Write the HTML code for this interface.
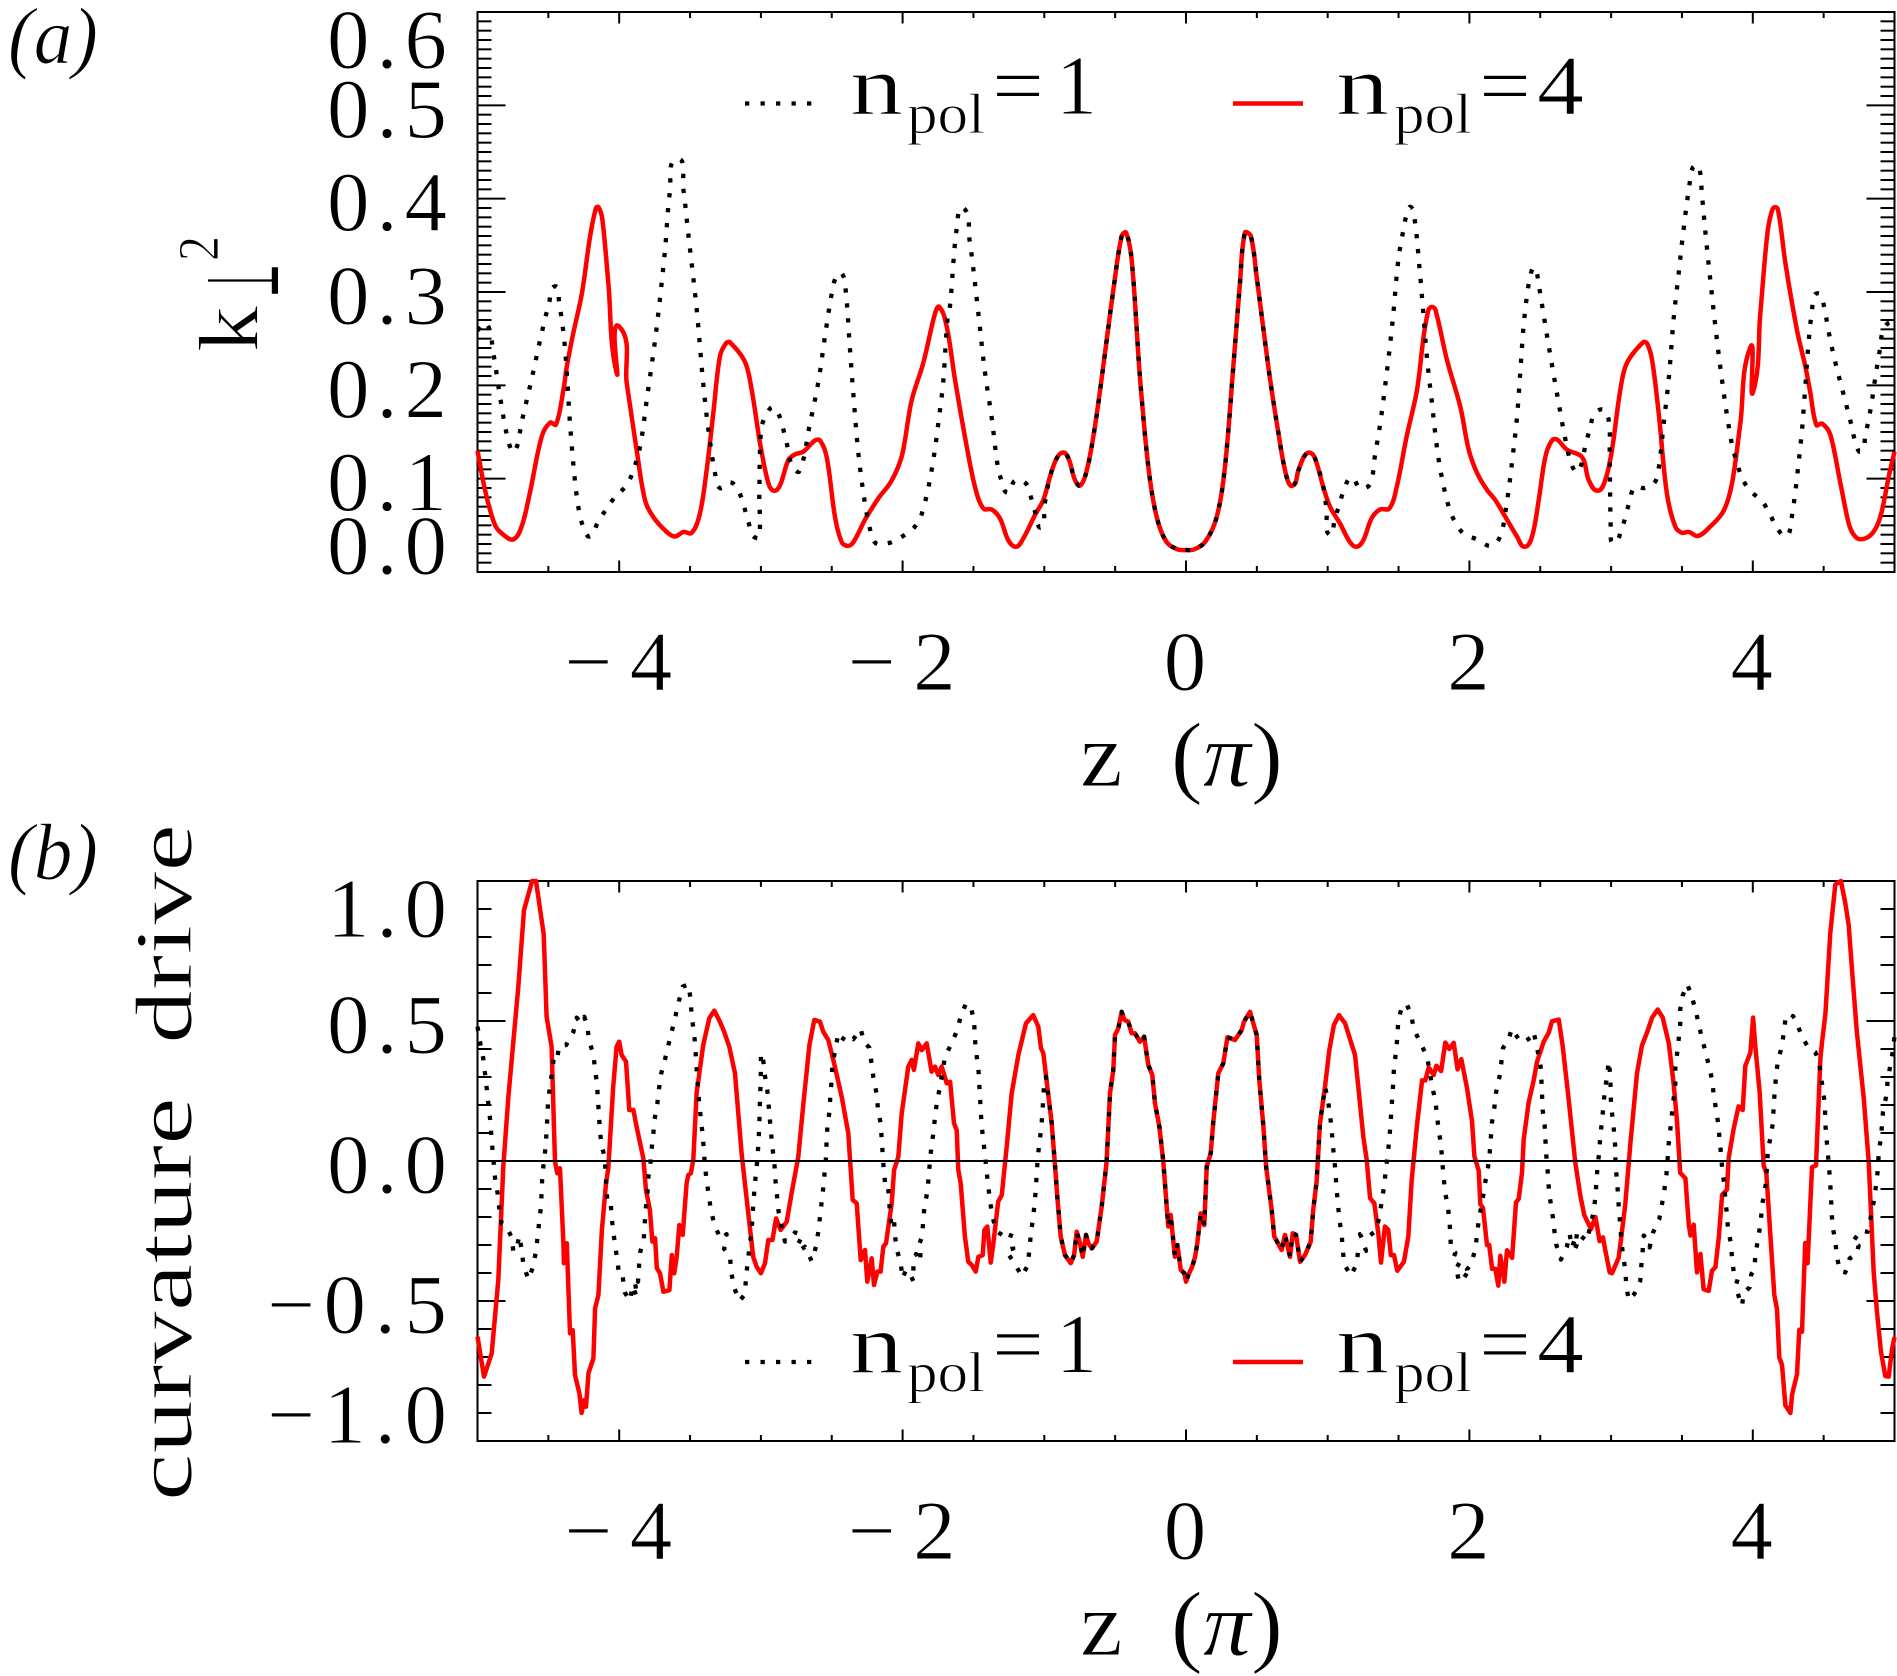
<!DOCTYPE html>
<html lang="en">
<head>
<meta charset="utf-8">
<title>k-perp squared and curvature drive versus z</title>
<style>
html,body{margin:0;padding:0;background:#fff;width:1897px;height:1676px;overflow:hidden}
svg{display:block}
text{font-family:"Liberation Serif","DejaVu Serif",serif;fill:#000;stroke:#fff;stroke-width:.9px}
</style>
</head>
<body>
<svg id="fig" xmlns="http://www.w3.org/2000/svg" width="1897" height="1676" viewBox="0 0 1897 1676">
  <text x="8" y="63" font-size="80" font-style="italic" textLength="90" lengthAdjust="spacingAndGlyphs">(a)</text>
  <text x="8" y="879" font-size="80" font-style="italic" textLength="90" lengthAdjust="spacingAndGlyphs">(b)</text>

  <g id="panelA"></g>
  <g id="panelB"></g>

  <g>
    <text transform="translate(257.5,352) rotate(-90)" font-size="85" textLength="46" lengthAdjust="spacingAndGlyphs">k</text>
    <text transform="translate(278,297) rotate(-90)" font-size="100" textLength="33" lengthAdjust="spacingAndGlyphs" style='font-family:"DejaVu Sans",sans-serif;stroke:none'>⊥</text>
    <text transform="translate(218,261) rotate(-90)" font-size="58" textLength="25" lengthAdjust="spacingAndGlyphs">2</text>
  </g>
  <text transform="translate(191,1501) rotate(-90)" font-size="81" textLength="677" lengthAdjust="spacingAndGlyphs">curvature&#160;&#160;drive</text>

  <text x="1080" y="786" font-size="92" textLength="203" lengthAdjust="spacingAndGlyphs">z&#160;&#160;(<tspan font-style="italic">π</tspan>)</text>
  <text x="1080" y="1655" font-size="92" textLength="203" lengthAdjust="spacingAndGlyphs">z&#160;&#160;(<tspan font-style="italic">π</tspan>)</text>

  <g>
    <g>
      <line x1="745" y1="103.5" x2="812" y2="103.5" stroke="#000" stroke-width="4.3" stroke-dasharray="4.3 11.2"/>
      <text x="850" y="114" font-size="85" textLength="53" lengthAdjust="spacingAndGlyphs">n</text>
      <text x="907" y="133" font-size="57" textLength="78" lengthAdjust="spacingAndGlyphs">pol</text>
      <text x="992" y="114" font-size="85" textLength="52" lengthAdjust="spacingAndGlyphs">=</text>
      <text x="1056" y="114" font-size="85" textLength="41" lengthAdjust="spacingAndGlyphs">1</text>
    </g>
    <g>
      <line x1="1233" y1="103.5" x2="1303" y2="103.5" stroke="#f00" stroke-width="4.5"/>
      <text x="1336" y="114" font-size="85" textLength="53" lengthAdjust="spacingAndGlyphs">n</text>
      <text x="1394" y="133" font-size="57" textLength="78" lengthAdjust="spacingAndGlyphs">pol</text>
      <text x="1479" y="114" font-size="85" textLength="52" lengthAdjust="spacingAndGlyphs">=</text>
      <text x="1537" y="114" font-size="85" textLength="47" lengthAdjust="spacingAndGlyphs">4</text>
    </g>
  </g>
  <g>
    <g>
      <line x1="745" y1="1362" x2="812" y2="1362" stroke="#000" stroke-width="4.3" stroke-dasharray="4.3 11.2"/>
      <text x="850" y="1372.5" font-size="85" textLength="53" lengthAdjust="spacingAndGlyphs">n</text>
      <text x="907" y="1391.5" font-size="57" textLength="78" lengthAdjust="spacingAndGlyphs">pol</text>
      <text x="992" y="1372.5" font-size="85" textLength="52" lengthAdjust="spacingAndGlyphs">=</text>
      <text x="1056" y="1372.5" font-size="85" textLength="41" lengthAdjust="spacingAndGlyphs">1</text>
    </g>
    <g>
      <line x1="1233" y1="1362" x2="1303" y2="1362" stroke="#f00" stroke-width="4.5"/>
      <text x="1336" y="1372.5" font-size="85" textLength="53" lengthAdjust="spacingAndGlyphs">n</text>
      <text x="1394" y="1391.5" font-size="57" textLength="78" lengthAdjust="spacingAndGlyphs">pol</text>
      <text x="1479" y="1372.5" font-size="85" textLength="52" lengthAdjust="spacingAndGlyphs">=</text>
      <text x="1537" y="1372.5" font-size="85" textLength="47" lengthAdjust="spacingAndGlyphs">4</text>
    </g>
  </g>
</svg>

<script>
/* ---------- chart data: [z (units of pi), value] ---------- */
const xTickMajor = [-4,-2,0,2,4];
const xTickLabels = ["−4","−2","0","2","4"];
const yTickValuesA = [0.0,0.1,0.2,0.3,0.4,0.5,0.6];
const yTickLabelsA = ["0.0","0.1","0.2","0.3","0.4","0.5","0.6"];
const yTickValuesB = [-1.0,-0.5,0.0,0.5,1.0];
const yTickLabelsB = ["−1.0","−0.5","0.0","0.5","1.0"];

const k2Npol4 = [[-5,.130],[-4.947,.088],[-4.876,.050],[-4.818,.040],[-4.747,.035],[-4.688,.049],[-4.63,.085],[-4.547,.145],[-4.488,.160],[-4.446,.158],[-4.394,.195],[-4.37,.22],[-4.324,.256],[-4.264,.298],[-4.206,.359],[-4.164,.390],[-4.147,.391],[-4.12,.379],[-4.077,.31],[-4.018,.2135],[-4.0,.263],[-3.947,.2025],[-3.877,.131],[-3.818,.077],[-3.76,.059],[-3.665,.043],[-3.606,.038],[-3.547,.043],[-3.488,.042],[-3.43,.063],[-3.383,.109],[-3.336,.17],[-3.289,.231],[-3.246,.245],[-3.218,.246],[-3.112,.225],[-3.065,.195],[-3.006,.138],[-2.947,.095],[-2.908,.087],[-2.865,.093],[-2.806,.12],[-2.759,.126],[-2.7,.129],[-2.618,.141],[-2.583,.141],[-2.536,.1235],[-2.477,.059],[-2.43,.032],[-2.387,.028],[-2.347,.032],[-2.265,.056],[-2.171,.079],[-2.089,.095],[-2.03,.113],[-1.995,.131],[-1.936,.184],[-1.854,.224],[-1.771,.277],[-1.741,.284],[-1.689,.263],[-1.63,.206],[-1.56,.145],[-1.489,.091],[-1.43,.068],[-1.371,.067],[-1.313,.0575],[-1.254,.034],[-1.2,.027],[-1.148,.036],[-1.066,.061],[-1.007,.077],[-.96,.102],[-.912,.122],[-.866,.128],[-.83,.122],[-.76,.093],[-.713,.102],[-.654,.145],[-.584,.22],[-.513,.302],[-.454,.36],[-.423,.3635],[-.383,.334],[-.325,.209],[-.266,.113],[-.207,.059],[-.136,.032],[-.054,.024],[0,.0236],[.054,.024],[.134,.032],[.217,.059],[.275,.113],[.334,.22],[.381,.31],[.416,.3635],[.457,.36],[.499,.316],[.581,.22],[.652,.149],[.71,.102],[.753,.0925],[.793,.109],[.833,.1235],[.87,.128],[.91,.122],[.969,.091],[1.016,.07],[1.087,.052],[1.157,.032],[1.205,.027],[1.251,.034],[1.31,.0575],[1.369,.067],[1.435,.068],[1.487,.091],[1.557,.145],[1.63,.195],[1.677,.252],[1.712,.281],[1.736,.284],[1.76,.281],[1.842,.227],[1.936,.177],[1.995,.131],[2.054,.106],[2.124,.088],[2.183,.077],[2.265,.056],[2.336,.038],[2.39,.027],[2.442,.038],[2.489,.077],[2.536,.1235],[2.583,.141],[2.618,.142],[2.689,.131],[2.795,.123],[2.842,.0986],[2.905,.087],[2.959,.0986],[3.006,.131],[3.065,.195],[3.112,.224],[3.225,.246],[3.253,.245],[3.289,.227],[3.336,.17],[3.394,.084],[3.453,.0485],[3.5,.042],[3.548,.043],[3.611,.0386],[3.689,.047],[3.795,.066],[3.853,.095],[3.912,.159],[3.983,.241],[4.002,.193],[4.053,.277],[4.1,.359],[4.129,.384],[4.159,.391],[4.183,.384],[4.23,.331],[4.312,.259],[4.371,.22],[4.407,.191],[4.449,.1575],[4.489,.159],[4.547,.147],[4.618,.095],[4.677,.052],[4.712,.04],[4.759,.035],[4.841,.041],[4.9,.059],[4.959,.102],[5,.129]];

const k2Npol1 = [[-5,.259],[-4.935,.266],[-4.888,.234],[-4.841,.188],[-4.782,.14],[-4.74,.129],[-4.688,.161],[-4.617,.2075],[-4.547,.256],[-4.495,.288],[-4.453,.306],[-4.425,.29],[-4.383,.241],[-4.347,.159],[-4.312,.097],[-4.281,.063],[-4.253,.0485],[-4.206,.038],[-4.152,.053],[-4.037,.079],[-3.959,.091],[-3.912,.104],[-3.853,.134],[-3.806,.184],[-3.735,.263],[-3.677,.345],[-3.641,.409],[-3.59,.4425],[-3.548,.411],[-3.513,.363],[-3.454,.2825],[-3.407,.202],[-3.372,.154],[-3.324,.106],[-3.289,.09],[-3.213,.096],[-3.152,.085],[-3.089,.054],[-3.054,.0386],[-3.013,.037],[-3.011,.084],[-3,.15],[-2.971,.166],[-2.908,.176],[-2.83,.146],[-2.783,.115],[-2.729,.108],[-2.658,.156],[-2.594,.204],[-2.548,.252],[-2.5,.2986],[-2.47,.316],[-2.43,.32],[-2.403,.304],[-2.372,.24],[-2.348,.191],[-2.312,.127],[-2.27,.078],[-2.23,.046],[-2.19,.031],[-2.098,.031],[-2.002,.038],[-1.917,.048],[-1.865,.062],[-1.795,.109],[-1.736,.1736],[-1.712,.206],[-1.684,.27],[-1.665,.286],[-1.618,.368],[-1.571,.39],[-1.529,.3575],[-1.489,.309],[-1.454,.261],[-1.418,.213],[-1.371,.165],[-1.332,.1165],[-1.306,.1],[-1.258,.085],[-1.207,.098],[-1.131,.095],[-1.094,.08],[-1.066,.065],[-1.035,.048],[-1.002,.052],[-1.002,.067],[-.96,.102],[-.912,.122],[-.866,.128],[-.83,.122],[-.76,.093],[-.713,.102],[-.654,.145],[-.584,.22],[-.513,.302],[-.454,.36],[-.423,.3635],[-.383,.334],[-.325,.209],[-.266,.113],[-.207,.059],[-.136,.032],[-.054,.024],[0,.0236],[.054,.024],[.134,.032],[.217,.059],[.275,.113],[.334,.22],[.381,.31],[.416,.3635],[.457,.36],[.499,.316],[.581,.22],[.652,.149],[.71,.102],[.753,.0925],[.793,.109],[.833,.1235],[.87,.128],[.91,.122],[.969,.091],[.993,.065],[1.011,.04],[1.051,.0575],[1.082,.072],[1.115,.088],[1.169,.101],[1.228,.0897],[1.298,.094],[1.334,.125],[1.369,.1575],[1.411,.206],[1.459,.27],[1.498,.334],[1.534,.3665],[1.557,.3825],[1.588,.391],[1.616,.375],[1.647,.327],[1.666,.2935],[1.701,.229],[1.736,.181],[1.771,.133],[1.807,.1],[1.854,.07],[1.894,.055],[1.96,.041],[2.054,.035],[2.153,.028],[2.218,.0386],[2.26,.07],[2.301,.118],[2.336,.166],[2.36,.216],[2.383,.265],[2.407,.297],[2.431,.318],[2.458,.326],[2.489,.3075],[2.524,.275],[2.559,.243],[2.595,.211],[2.63,.181],[2.67,.148],[2.717,.117],[2.764,.1075],[2.823,.1385],[2.853,.155],[2.884,.17],[2.952,.1736],[2.987,.1575],[2.99,.125],[2.994,.077],[2.999,.045],[3.018,.031],[3.072,.045],[3.131,.076],[3.167,.091],[3.237,.09],[3.308,.096],[3.336,.111],[3.371,.159],[3.407,.2075],[3.442,.272],[3.477,.32],[3.512,.368],[3.555,.417],[3.578,.4336],[3.618,.435],[3.642,.402],[3.672,.354],[3.705,.306],[3.74,.2575],[3.78,.209],[3.825,.161],[3.865,.129],[3.931,.0986],[3.99,.086],[4.069,.075],[4.124,.061],[4.171,.047],[4.237,.0386],[4.27,.055],[4.3,.086],[4.324,.118],[4.347,.152],[4.371,.2],[4.395,.2486],[4.418,.281],[4.437,.297],[4.477,.2975],[4.507,.281],[4.547,.2486],[4.594,.2175],[4.648,.186],[4.7,.155],[4.724,.139],[4.764,.129],[4.794,.146],[4.834,.177],[4.865,.209],[4.9,.241],[4.917,.2575],[4.971,.2675],[5,.259]];

const curvNpol4 = [[-5,-.627],[-4.954,-.77],[-4.9,-.687],[-4.853,-.425],[-4.818,-.02],[-4.782,.23],[-4.712,.622],[-4.672,.896],[-4.615,1.0],[-4.587,1.0],[-4.533,.81],[-4.512,.515],[-4.477,.408],[-4.453,-.0025],[-4.437,-.044],[-4.418,-.026],[-4.394,-.294],[-4.39,-.365],[-4.37,-.294],[-4.347,-.615],[-4.328,-.604],[-4.312,-.764],[-4.281,-.83],[-4.265,-.9],[-4.248,-.854],[-4.234,-.8775],[-4.217,-.757],[-4.182,-.705],[-4.17,-.526],[-4.147,-.4786],[-4.122,-.246],[-4.093,-.08],[-4.077,-.026],[-4.042,.265],[-4.018,.408],[-4,.426],[-3.983,.379],[-3.952,.355],[-3.929,.182],[-3.9,.182],[-3.877,.1225],[-3.83,.01],[-3.811,-.104],[-3.783,-.175],[-3.766,-.288],[-3.747,-.276],[-3.735,-.383],[-3.712,-.401],[-3.688,-.467],[-3.646,-.461],[-3.629,-.336],[-3.612,-.401],[-3.594,-.342],[-3.576,-.229],[-3.552,-.264],[-3.524,-.08],[-3.512,-.05],[-3.495,-.044],[-3.477,.004],[-3.454,.242],[-3.407,.414],[-3.364,.51],[-3.329,.537],[-3.289,.4975],[-3.26,.462],[-3.223,.408],[-3.183,.313],[-3.136,.0275],[-3.093,-.169],[-3.054,-.342],[-3.03,-.3775],[-3,-.401],[-2.971,-.365],[-2.948,-.282],[-2.919,-.282],[-2.893,-.205],[-2.86,-.246],[-2.818,-.217],[-2.783,-.115],[-2.736,.015],[-2.7,.206],[-2.658,.414],[-2.623,.504],[-2.583,.4975],[-2.56,.462],[-2.524,.432],[-2.489,.361],[-2.43,.23],[-2.383,.099],[-2.352,-.139],[-2.324,-.151],[-2.296,-.354],[-2.265,-.318],[-2.249,-.431],[-2.218,-.3475],[-2.202,-.443],[-2.178,-.395],[-2.155,-.395],[-2.136,-.306],[-2.117,-.294],[-2.077,-.151],[-2.06,-.032],[-2.03,.015],[-2.006,.17],[-1.96,.337],[-1.936,.361],[-1.92,.325],[-1.889,.42],[-1.865,.396],[-1.83,.42],[-1.795,.319],[-1.771,.337],[-1.748,.307],[-1.724,.337],[-1.689,.2775],[-1.665,.283],[-1.637,.135],[-1.618,.11],[-1.607,-.032],[-1.59,-.08],[-1.56,-.27],[-1.536,-.36],[-1.512,-.371],[-1.484,-.395],[-1.465,-.342],[-1.435,-.336],[-1.423,-.246],[-1.402,-.234],[-1.378,-.363],[-1.36,-.296],[-1.325,-.145],[-1.3,-.121],[-1.265,.051],[-1.23,.242],[-1.183,.379],[-1.129,.492],[-1.078,.521],[-1.042,.48],[-1.023,.4025],[-1.007,.385],[-.948,.135],[-.924,-.02],[-.908,-.1275],[-.884,-.27],[-.854,-.336],[-.814,-.365],[-.79,-.336],[-.771,-.2525],[-.748,-.294],[-.729,-.342],[-.706,-.264],[-.689,-.294],[-.665,-.312],[-.63,-.288],[-.595,-.163],[-.56,-.0025],[-.536,.242],[-.513,.325],[-.501,.45],[-.478,.474],[-.454,.533],[-.435,.504],[-.407,.4975],[-.383,.456],[-.36,.456],[-.325,.426],[-.296,.444],[-.266,.343],[-.238,.307],[-.219,.206],[-.188,.1225],[-.16,-.0025],[-.136,-.163],[-.125,-.234],[-.108,-.193],[-.078,-.342],[-.061,-.3],[-.037,-.389],[-.012,-.401],[0,-.431],[.016,-.407],[.044,-.3775],[.064,-.342],[.08,-.294],[.104,-.187],[.129,-.229],[.146,-.02],[.174,.0275],[.193,.14],[.228,.313],[.263,.349],[.292,.442],[.346,.432],[.393,.468],[.409,.4975],[.452,.533],[.499,.45],[.517,.289],[.546,.1225],[.565,-.02],[.605,-.175],[.623,-.27],[.675,-.318],[.699,-.264],[.734,-.342],[.753,-.258],[.776,-.264],[.805,-.36],[.84,-.336],[.88,-.288],[.898,-.175],[.922,-.074],[.946,.135],[.981,.265],[1.011,.396],[1.044,.486],[1.08,.521],[1.122,.492],[1.193,.379],[1.216,.265],[1.251,.087],[1.275,.004],[1.299,-.133],[1.329,-.151],[1.357,-.258],[1.376,-.363],[1.404,-.234],[1.428,-.246],[1.445,-.336],[1.468,-.336],[1.491,-.392],[1.538,-.36],[1.569,-.27],[1.593,-.068],[1.63,.129],[1.666,.288],[1.689,.288],[1.713,.334],[1.748,.307],[1.767,.34],[1.8,.321],[1.83,.423],[1.858,.4],[1.889,.422],[1.917,.327],[1.943,.364],[1.983,.261],[2.018,.142],[2.035,.017],[2.066,-.036],[2.077,-.154],[2.096,-.168],[2.124,-.3],[2.14,-.3],[2.16,-.385],[2.183,-.385],[2.204,-.445],[2.218,-.339],[2.246,-.431],[2.265,-.319],[2.301,-.346],[2.329,-.148],[2.348,-.135],[2.371,-.042],[2.383,.077],[2.418,.208],[2.454,.288],[2.477,.354],[2.524,.426],[2.56,.459],[2.583,.499],[2.63,.505],[2.658,.413],[2.7,.222],[2.747,-.003],[2.782,-.121],[2.811,-.194],[2.858,-.243],[2.889,-.2],[2.919,-.286],[2.943,-.273],[2.959,-.319],[2.99,-.398],[3.006,-.401],[3.053,-.346],[3.07,-.28],[3.1,-.154],[3.136,.063],[3.183,.314],[3.218,.413],[3.253,.459],[3.289,.512],[3.329,.541],[3.364,.512],[3.407,.42],[3.442,.274],[3.465,.142],[3.488,-.042],[3.524,-.062],[3.548,-.227],[3.56,-.266],[3.583,-.227],[3.606,-.398],[3.63,-.332],[3.653,-.458],[3.689,-.464],[3.712,-.392],[3.736,-.379],[3.76,-.273],[3.783,-.121],[3.818,-.102],[3.83,.011],[3.865,.116],[3.9,.195],[3.929,.182],[3.947,.34],[3.983,.387],[4.002,.512],[4.018,.406],[4.048,.248],[4.077,-.016],[4.095,-.042],[4.124,-.266],[4.152,-.478],[4.171,-.53],[4.187,-.702],[4.206,-.728],[4.23,-.873],[4.265,-.9],[4.277,-.834],[4.312,-.761],[4.328,-.603],[4.347,-.61],[4.37,-.293],[4.387,-.365],[4.418,-.022],[4.446,-.016],[4.477,.367],[4.489,.426],[4.512,.525],[4.547,.815],[4.582,.987],[4.622,1.0],[4.653,.921],[4.677,.842],[4.7,.683],[4.735,.459],[4.783,.222],[4.818,-.003],[4.853,-.398],[4.877,-.544],[4.905,-.682],[4.935,-.768],[4.959,-.77],[4.982,-.675],[5,-.629]];

const curvNpol1 = [[-5,.48],[-4.98,.42],[-4.96,.367],[-4.947,.313],[-4.935,.26],[-4.924,.206],[-4.912,.152],[-4.895,.045],[-4.876,-.062],[-4.858,-.115],[-4.846,-.169],[-4.83,-.223],[-4.79,-.24],[-4.759,-.273],[-4.747,-.324],[-4.724,-.312],[-4.705,-.267],[-4.688,-.318],[-4.676,-.371],[-4.641,-.423],[-4.606,-.375],[-4.587,-.32],[-4.575,-.268],[-4.564,-.214],[-4.552,-.161],[-4.543,-.054],[-4.531,0],[-4.519,.055],[-4.512,.108],[-4.507,.162],[-4.502,.215],[-4.488,.269],[-4.472,.323],[-4.46,.376],[-4.436,.369],[-4.425,.411],[-4.375,.414],[-4.324,.46],[-4.3,.512],[-4.272,.492],[-4.246,.515],[-4.225,.483],[-4.213,.43],[-4.183,.382],[-4.171,.329],[-4.157,.275],[-4.15,.221],[-4.143,.168],[-4.136,.113],[-4.126,.06],[-4.105,.019],[-4.096,-.036],[-4.091,-.089],[-4.084,-.143],[-4.061,-.143],[-4.054,-.196],[-4.042,-.25],[-4.028,-.304],[-4.012,-.357],[-4.001,-.411],[-3.975,-.413],[-3.961,-.469],[-3.923,-.499],[-3.907,-.446],[-3.876,-.485],[-3.891,-.417],[-3.867,-.431],[-3.86,-.377],[-3.851,-.324],[-3.827,-.282],[-3.82,-.226],[-3.813,-.173],[-3.801,-.119],[-3.797,-.065],[-3.78,-.012],[-3.771,.042],[-3.759,.096],[-3.75,.15],[-3.731,.204],[-3.719,.257],[-3.705,.31],[-3.677,.363],[-3.653,.414],[-3.627,.468],[-3.601,.521],[-3.578,.573],[-3.552,.623],[-3.51,.631],[-3.496,.575],[-3.489,.521],[-3.475,.468],[-3.463,.414],[-3.458,.361],[-3.451,.307],[-3.444,.254],[-3.434,.2],[-3.423,.146],[-3.411,.093],[-3.402,.038],[-3.395,-.015],[-3.383,-.07],[-3.367,-.124],[-3.353,-.177],[-3.325,-.231],[-3.284,-.279],[-3.242,-.261],[-3.26,-.314],[-3.218,-.342],[-3.209,-.398],[-3.19,-.451],[-3.152,-.5],[-3.117,-.479],[-3.105,-.425],[-3.096,-.371],[-3.07,-.267],[-3.061,-.211],[-3.054,-.157],[-3.046,-.104],[-3.037,-.05],[-3.025,.004],[-3.018,.057],[-3.013,.111],[-3.009,.164],[-3.006,.22],[-3.002,.275],[-3,.331],[-3,.385],[-2.983,.357],[-2.971,.304],[-2.954,.25],[-2.945,.196],[-2.936,.142],[-2.926,.088],[-2.915,.035],[-2.903,-.02],[-2.896,-.074],[-2.886,-.127],[-2.875,-.181],[-2.853,-.235],[-2.83,-.288],[-2.783,-.27],[-2.759,-.255],[-2.705,-.264],[-2.747,-.306],[-2.724,-.318],[-2.689,-.306],[-2.642,-.357],[-2.611,-.306],[-2.595,-.252],[-2.583,-.199],[-2.571,-.145],[-2.559,-.092],[-2.55,-.038],[-2.54,.015],[-2.536,.07],[-2.531,.125],[-2.515,.179],[-2.51,.232],[-2.501,.287],[-2.496,.34],[-2.477,.393],[-2.458,.444],[-2.437,.423],[-2.402,.45],[-2.348,.435],[-2.296,.471],[-2.272,.425],[-2.235,.405],[-2.22,.352],[-2.206,.298],[-2.185,.244],[-2.174,.19],[-2.157,.138],[-2.148,.085],[-2.141,.03],[-2.134,-.024],[-2.124,-.076],[-2.103,-.074],[-2.098,-.127],[-2.089,-.181],[-2.077,-.237],[-2.06,-.217],[-2.054,-.262],[-2.042,-.314],[-2.014,-.363],[-2,-.419],[-1.976,-.389],[-1.948,-.405],[-1.924,-.429],[-1.924,-.375],[-1.905,-.332],[-1.877,-.36],[-1.872,-.321],[-1.886,-.302],[-1.863,-.27],[-1.846,-.163],[-1.825,-.11],[-1.816,-.056],[-1.807,-.002],[-1.797,.051],[-1.781,.105],[-1.771,.158],[-1.757,.212],[-1.736,.265],[-1.701,.373],[-1.654,.42],[-1.614,.468],[-1.588,.521],[-1.553,.561],[-1.52,.554],[-1.496,.501],[-1.484,.394],[-1.466,.34],[-1.461,.287],[-1.454,.233],[-1.449,.179],[-1.442,.125],[-1.43,.071],[-1.418,.018],[-1.407,-.036],[-1.395,-.089],[-1.383,-.143],[-1.366,-.196],[-1.341,-.249],[-1.29,-.267],[-1.23,-.258],[-1.249,-.282],[-1.219,-.312],[-1.27,-.32],[-1.207,-.368],[-1.16,-.411],[-1.117,-.374],[-1.106,-.32],[-1.096,-.267],[-1.082,-.211],[-1.07,-.16],[-1.061,-.106],[-1.054,-.052],[-1.047,.004],[-1.037,.056],[-1.023,.111],[-1.014,.164],[-1.002,.271],[-.988,.301],[-.948,.135],[-.924,-.02],[-.908,-.1275],[-.884,-.27],[-.854,-.336],[-.814,-.365],[-.79,-.336],[-.771,-.2525],[-.748,-.294],[-.729,-.342],[-.706,-.264],[-.689,-.294],[-.665,-.312],[-.63,-.288],[-.595,-.163],[-.56,-.0025],[-.536,.242],[-.513,.325],[-.501,.45],[-.478,.474],[-.454,.533],[-.435,.504],[-.407,.4975],[-.383,.456],[-.36,.456],[-.325,.426],[-.296,.444],[-.266,.343],[-.238,.307],[-.219,.206],[-.188,.1225],[-.16,-.0025],[-.136,-.163],[-.125,-.234],[-.108,-.193],[-.078,-.342],[-.061,-.3],[-.037,-.389],[-.012,-.401],[0,-.431],[.016,-.407],[.044,-.3775],[.064,-.342],[.08,-.294],[.104,-.187],[.129,-.229],[.146,-.02],[.174,.0275],[.193,.14],[.228,.313],[.263,.349],[.292,.442],[.346,.432],[.393,.468],[.409,.4975],[.452,.533],[.499,.45],[.517,.289],[.546,.1225],[.565,-.02],[.605,-.175],[.623,-.27],[.675,-.318],[.699,-.264],[.734,-.342],[.753,-.258],[.776,-.264],[.805,-.36],[.84,-.336],[.88,-.288],[.898,-.175],[.922,-.074],[.946,.135],[.981,.265],[1,.221],[1.016,.167],[1.028,.113],[1.035,.06],[1.047,.006],[1.056,-.048],[1.063,-.101],[1.073,-.155],[1.082,-.208],[1.099,-.262],[1.106,-.315],[1.117,-.369],[1.162,-.41],[1.204,-.369],[1.216,-.315],[1.27,-.321],[1.247,-.282],[1.228,-.261],[1.287,-.27],[1.341,-.249],[1.364,-.199],[1.381,-.145],[1.397,-.092],[1.409,-.038],[1.421,.015],[1.433,.069],[1.442,.123],[1.449,.176],[1.456,.23],[1.463,.283],[1.468,.339],[1.484,.393],[1.491,.446],[1.498,.5],[1.522,.549],[1.557,.561],[1.588,.524],[1.609,.47],[1.654,.422],[1.701,.373],[1.72,.321],[1.736,.268],[1.76,.215],[1.771,.162],[1.783,.109],[1.8,.057],[1.807,.001],[1.818,-.051],[1.826,-.106],[1.847,-.158],[1.859,-.211],[1.866,-.266],[1.87,-.319],[1.901,-.328],[1.877,-.359],[1.936,-.375],[1.908,-.385],[1.924,-.425],[1.952,-.401],[2.002,-.418],[1.983,-.388],[2.014,-.365],[2.042,-.313],[2.054,-.26],[2.066,-.211],[2.096,-.128],[2.112,-.075],[2.131,-.022],[2.143,.03],[2.152,.086],[2.159,.136],[2.176,.189],[2.188,.244],[2.211,.297],[2.225,.351],[2.237,.404],[2.27,.426],[2.3,.472],[2.348,.435],[2.401,.446],[2.434,.423],[2.458,.45],[2.482,.393],[2.501,.344],[2.508,.29],[2.517,.182],[2.531,.129],[2.543,.02],[2.552,-.033],[2.559,-.088],[2.571,-.141],[2.587,-.194],[2.599,-.247],[2.613,-.299],[2.646,-.352],[2.688,-.306],[2.707,-.26],[2.724,-.309],[2.759,-.256],[2.747,-.313],[2.782,-.266],[2.83,-.286],[2.853,-.233],[2.877,-.181],[2.889,-.128],[2.896,-.075],[2.905,-.018],[2.917,.034],[2.924,.09],[2.936,.142],[2.955,.248],[2.971,.301],[2.983,.356],[2.994,.31],[2.997,.255],[2.999,.202],[3.013,.145],[3.023,.092],[3.03,.04],[3.03,-.016],[3.042,-.069],[3.049,-.121],[3.056,-.177],[3.065,-.23],[3.072,-.282],[3.084,-.336],[3.1,-.389],[3.107,-.445],[3.124,-.497],[3.164,-.475],[3.206,-.427],[3.213,-.375],[3.223,-.319],[3.23,-.266],[3.253,-.28],[3.272,-.309],[3.296,-.256],[3.34,-.207],[3.359,-.154],[3.376,-.102],[3.39,-.049],[3.399,.004],[3.406,.059],[3.418,.112],[3.43,.169],[3.441,.222],[3.453,.274],[3.453,.33],[3.465,.38],[3.477,.435],[3.488,.485],[3.488,.542],[3.505,.591],[3.536,.631],[3.559,.604],[3.59,.551],[3.614,.499],[3.637,.446],[3.665,.393],[3.689,.343],[3.713,.29],[3.724,.237],[3.741,.182],[3.757,.129],[3.766,.077],[3.776,.021],[3.785,-.032],[3.799,-.084],[3.806,-.137],[3.818,-.191],[3.825,-.244],[3.844,-.29],[3.853,-.343],[3.865,-.396],[3.9,-.412],[3.877,-.449],[3.924,-.517],[3.936,-.471],[3.978,-.451],[3.989,-.405],[4.011,-.388],[4.018,-.332],[4.037,-.28],[4.053,-.227],[4.07,-.145],[4.081,-.121],[4.095,-.066],[4.1,-.013],[4.107,.04],[4.128,.092],[4.142,.136],[4.147,.189],[4.154,.244],[4.163,.297],[4.175,.351],[4.2,.4],[4.218,.453],[4.23,.505],[4.26,.496],[4.284,.518],[4.312,.492],[4.347,.443],[4.394,.404],[4.441,.389],[4.465,.358],[4.481,.305],[4.495,.252],[4.51,.198],[4.51,.142],[4.519,.09],[4.528,.037],[4.537,-.016],[4.545,-.071],[4.552,-.124],[4.556,-.181],[4.563,-.234],[4.582,-.286],[4.594,-.342],[4.613,-.392],[4.653,-.398],[4.684,-.348],[4.735,-.332],[4.747,-.302],[4.7,-.293],[4.723,-.276],[4.763,-.249],[4.81,-.253],[4.834,-.198],[4.853,-.145],[4.869,-.091],[4.881,-.038],[4.888,.017],[4.9,.07],[4.911,.123],[4.919,.175],[4.94,.228],[4.951,.284],[4.97,.34],[4.989,.393],[5,.446]];

/* ---------- axis functions ---------- */
const SVGNS = "http://www.w3.org/2000/svg";
const PLOT_L = 477.5, PLOT_R = 1894.5;
const xScale = z => PLOT_L + (z + 5) / 10 * (PLOT_R - PLOT_L);
const A_TOP = 12, A_BOT = 572, B_TOP = 881, B_BOT = 1441;
const yScaleA = v => A_BOT - v / 0.6 * (A_BOT - A_TOP);
const yScaleB = v => B_BOT - (v + 1) / 2 * (B_BOT - B_TOP);

function mk(tag, attrs, parent){
  const e = document.createElementNS(SVGNS, tag);
  for (const k in attrs) e.setAttribute(k, attrs[k]);
  parent.appendChild(e);
  return e;
}
function textLen(s){
  let w = 0;
  for (const c of s) w += c === "." ? 24 : c === "−" ? 60 : 48;
  return w;
}
function tickLine(parent, x1, y1, x2, y2, name){
  const t = mk("line", {x1, y1, x2, y2, stroke:"#000", "stroke-width":2}, parent);
  
  
}
function linePath(p){
  return "M" + p.map(q => q[0].toFixed(1) + " " + q[1].toFixed(1)).join("L");
}
/* tangent-limited cubic through the read points; keeps peaks from overshooting */
function smoothPath(p){
  let d = "M" + p[0][0].toFixed(1) + " " + p[0][1].toFixed(1);
  const tan = i => {
    const a = p[Math.max(0, i - 1)], b = p[Math.min(p.length - 1, i + 1)];
    const dx = b[0] - a[0], dy = b[1] - a[1], m = Math.hypot(dx, dy) || 1;
    return [dx / m, dy / m];
  };
  for (let i = 0; i < p.length - 1; i++){
    const s = Math.hypot(p[i+1][0] - p[i][0], p[i+1][1] - p[i][1]) / 3;
    const t0 = tan(i), t1 = tan(i + 1);
    const c1 = [p[i][0] + t0[0] * s, p[i][1] + t0[1] * s];
    const c2 = [p[i+1][0] - t1[0] * s, p[i+1][1] - t1[1] * s];
    d += "C" + c1[0].toFixed(1) + " " + c1[1].toFixed(1) + " " + c2[0].toFixed(1) + " " + c2[1].toFixed(1) + " " + p[i+1][0].toFixed(1) + " " + p[i+1][1].toFixed(1);
  }
  return d;
}
function drawSeries(parent, data, yS, dotted, smooth, name){
  const pts = data.map(d => [xScale(d[0]), yS(d[1])]);
  const dStr = smooth ? smoothPath(pts) : linePath(pts);
  const attrs = dotted
    ? {d:dStr, fill:"none", stroke:"#000", "stroke-width":4.3, "stroke-dasharray":"4.3 10.7", "stroke-linejoin":"round"}
    : {d:dStr, fill:"none", stroke:"#f00", "stroke-width":4.5, "stroke-linejoin":"round"};
  const p = mk("path", attrs, parent);
  
  
}
function drawPanel(parent, top, bot, yS, minorStep, vMin, vMax, yVals, yLabs, solid, dots, smooth, suffix){
  /* frame */
  const f = mk("rect", {x:PLOT_L, y:top, width:PLOT_R-PLOT_L, height:bot-top, fill:"none", stroke:"#000", "stroke-width":2}, parent);
  
  

  /* x ticks: minor every 0.5, major at labelled values */
  for (let i = -10; i <= 10; i++){
    const z = i * 0.5;
    const isMajor = xTickMajor.includes(z);
    if (Math.abs(z) === 5) continue;
    const len = isMajor ? 11.5 : 6;
    const x = xScale(z);
    tickLine(parent, x, bot, x, bot - len, 'x-tick-bottom-' + suffix);
    tickLine(parent, x, top, x, top + len, 'x-tick-top-' + suffix);
  }
  /* y ticks */
  const n = Math.round((vMax - vMin) / minorStep);
  const perMajor = Math.round((yVals[1] - yVals[0]) / minorStep);
  for (let i = 1; i < n; i++){
    const y = yS(vMin + i * minorStep);
    const len = i % perMajor === 0 ? 28 : 14;
    tickLine(parent, PLOT_L, y, PLOT_L + len, y, 'y-tick-left-' + suffix);
    tickLine(parent, PLOT_R, y, PLOT_R - len, y, 'y-tick-right-' + suffix);
  }
  /* y labels, nudged inward at the axis ends */
  yVals.forEach((v, i) => {
    const c = Math.min(bot - 26, Math.max(top + 28, yS(v) + 4));
    const t = mk("text", {x:447, y:c + 28, "font-size":85, "text-anchor":"end", textLength:textLen(yLabs[i]), lengthAdjust:"spacing"}, parent);
    t.textContent = yLabs[i];
    
    
  });
  /* x labels */
  xTickMajor.forEach((z, i) => {
    const t = mk("text", {x:xScale(z) - 1, y:bot + 118, "font-size":85, "text-anchor":"middle"}, parent);
    if (xTickLabels[i].length > 1) {
      t.setAttribute("textLength", textLen(xTickLabels[i]));
      t.setAttribute("lengthAdjust", "spacing");
    }
    t.textContent = xTickLabels[i];
    
    
  });
  /* series: red below, dots on top */
  drawSeries(parent, solid, yS, false, smooth, 'series-npol-4-' + suffix);
  drawSeries(parent, dots, yS, true, smooth, 'series-npol-1-' + suffix);
}

const gA = document.getElementById("panelA");
const gB = document.getElementById("panelB");
drawPanel(gA, A_TOP, A_BOT, yScaleA, 0.01, 0, 0.6, yTickValuesA, yTickLabelsA, k2Npol4, k2Npol1, true, 'a');
drawPanel(gB, B_TOP, B_BOT, yScaleB, 0.1, -1, 1, yTickValuesB, yTickLabelsB, curvNpol4, curvNpol1, false, 'b');

const zero = mk("line", {x1:PLOT_L, x2:PLOT_R, y1:yScaleB(0), y2:yScaleB(0), stroke:"#000", "stroke-width":2}, gB);


</script>
</body>
</html>
